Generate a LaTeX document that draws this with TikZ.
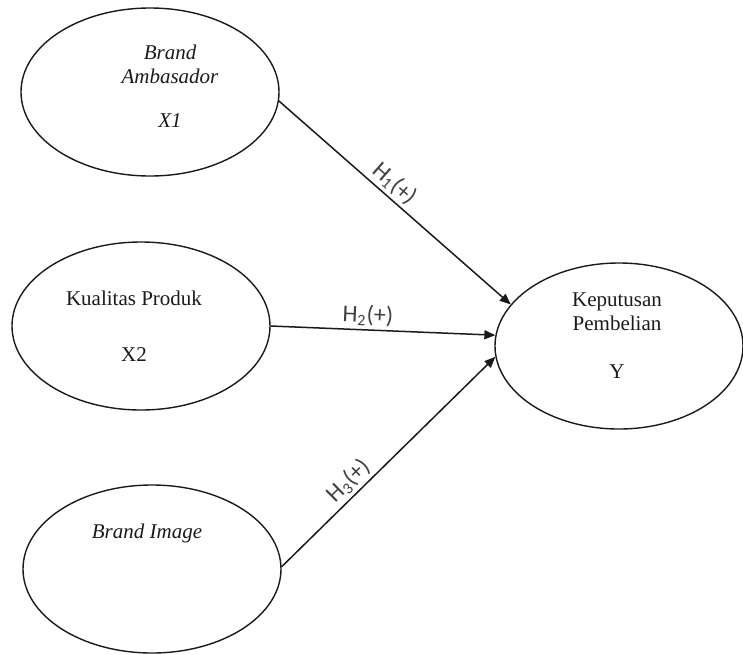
\documentclass[tikz,border=0pt]{standalone}
\usepackage{fontspec}
\setmainfont{Liberation Serif}
\newfontfamily\hypfont{Carlito}
\usetikzlibrary{arrows.meta,positioning,shapes.geometric}
\definecolor{Ink}{HTML}{1A1A1A}
\definecolor{Slate}{HTML}{404040}

\begin{document}
\begin{tikzpicture}[
      x=0.5pt, y=-0.5pt,
      >={Triangle[length=5.5pt,width=4.5pt]},
      latent/.style={draw=Ink, ellipse, line width=0.7pt, inner sep=0pt,
                     minimum width=129pt, minimum height=84pt},
      caption/.style={align=center, font=\fontsize{10.5}{12}\selectfont, text=Ink, inner sep=0pt},
      hyp/.style={font=\hypfont\fontsize{12}{14}\selectfont, text=Slate, sloped, above, inner sep=1.5pt}
    ]
      \useasboundingbox (0,0) rectangle (743,654);

      % latent variables
      \node[latent] (x1) at (150,92) {};
      \node[latent] (x2) at (141,326) {};
      \node[latent] (x3) at (152,569) {};
      \node[latent, minimum width=124pt, minimum height=83pt] (y) at (619,346) {};

      % texts inside the ellipses
      \node[caption, font=\itshape\fontsize{10.5}{12}\selectfont] (t1) at (170,86) {Brand\\Ambasador\\[10pt]X1};
      \node[caption] (t2) at (134,326) {Kualitas Produk\\[16pt]X2};
      \node[caption, font=\itshape\fontsize{10.5}{12}\selectfont] (t3) at (147,533) {Brand Image};
      \node[caption] (ty) at (617,336) {Keputusan\\Pembelian\\[12pt]Y};

      % hypotheses
      \draw[->, line width=0.75pt, Ink] (x1.-4) -- node[hyp, pos=0.46] {H\textsubscript{1}(+)} (y.159);
      \draw[->, line width=0.75pt, Ink] (x2.east) -- node[hyp, pos=0.43] {H\textsubscript{2}(+)} (y.175);
      \draw[->, line width=0.75pt, Ink] (x3.1) -- node[hyp, pos=0.36] {H\textsubscript{3}(+)} (y.185);
    \end{tikzpicture}
\end{document}
